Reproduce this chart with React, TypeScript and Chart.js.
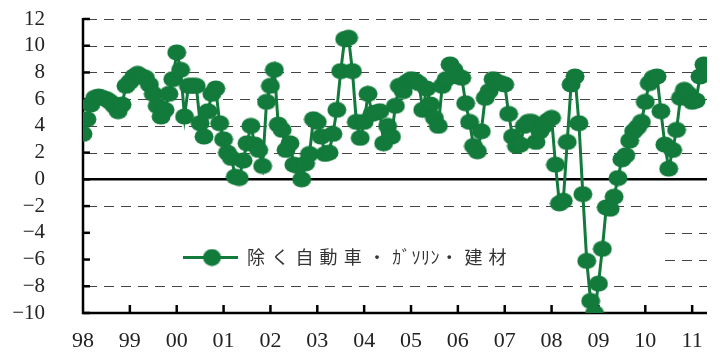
import React, { useEffect, useRef } from 'react';
import { Chart, registerables } from 'chart.js';

Chart.register(...registerables);

// ---- data ----
const yearLabels = ['98', '99', '00', '01', '02', '03', '04', '05', '06', '07', '08', '09', '10', '11'];
const seriesLabel = '除く自動車・ｶﾞｿﾘﾝ・建材';

const v1998 = [3.4, 4.5, 5.6, 6.1, 6.2, 6.1, 6.0, 5.8, 5.5, 5.1, 5.6, 7.0];
const v1999 = [7.3, 7.7, 7.9, 7.7, 7.6, 7.1, 6.4, 5.5, 4.7, 5.2, 6.4, 7.5];
const v2000 = [9.5, 8.2, 4.7, 7.0, 7.0, 7.0, 4.2, 3.2, 5.1, 6.4, 6.8, 4.2];
const v2001 = [3.0, 2.0, 1.6, 0.2, 0.1, 1.4, 2.7, 4.0, 2.6, 2.2, 1.0, 5.8];
const v2002 = [7.0, 8.2, 4.1, 3.7, 2.2, 2.7, 1.1, 1.0, 0.0, 1.2, 1.9, 4.5];
const v2003 = [4.3, 3.2, 1.9, 2.0, 3.4, 5.2, 8.1, 10.5, 10.6, 8.1, 4.3, 3.1];
const v2004 = [4.3, 6.4, 4.9, 5.0, 5.1, 2.7, 4.0, 3.2, 5.5, 7.0, 6.6, 7.3];
const v2005 = [7.5, 7.4, 7.2, 5.2, 6.8, 5.6, 4.6, 4.0, 7.0, 7.5, 8.6, 8.2];
const v2006 = [7.7, 7.6, 5.7, 4.3, 2.5, 2.1, 3.6, 6.1, 6.6, 7.5, 7.3, 7.2];
const v2007 = [7.1, 4.9, 3.2, 2.5, 2.6, 4.0, 4.3, 4.3, 2.8, 3.6, 4.0, 4.4];
const v2008 = [4.6, 1.1, -1.8, -1.6, 2.8, 7.1, 7.7, 4.2, -1.1, -6.1, -9.1, -10.0];
const v2009 = [-7.8, -5.2, -2.1, -2.2, -1.3, 0.1, 1.5, 1.8, 2.9, 3.6, 3.9, 4.3];
const v2010 = [5.8, 7.2, 7.6, 7.7, 5.1, 2.6, 0.8, 2.2, 3.7, 6.1, 6.7, 6.4];
const v2011 = [5.8, 5.9, 7.7, 8.6];

const values = [
  ...v1998, ...v1999, ...v2000, ...v2001, ...v2002, ...v2003, ...v2004,
  ...v2005, ...v2006, ...v2007, ...v2008, ...v2009, ...v2010, ...v2011,
];

const Y_MIN = -10;
const Y_MAX = 12;
const X_MAX = 159.8; // months shown after Jan 1998

const GREEN = '#127a3b';
const TEXT = '#222';

function makeMarker(w: number, h: number): HTMLCanvasElement {
  const c = document.createElement('canvas');
  c.width = w;
  c.height = h;
  const g = c.getContext('2d')!;
  g.fillStyle = GREEN;
  g.beginPath();
  g.ellipse(w / 2, h / 2, w / 2 - 0.5, h / 2 - 0.5, 0, 0, Math.PI * 2);
  g.fill();
  return c;
}

export default function App() {
  const ref = useRef<HTMLCanvasElement | null>(null);

  useEffect(() => {
    if (!ref.current) return;
    const marker = makeMarker(20, 17);
    const legendMarker = makeMarker(19, 18);

    const decor = {
      id: 'decor',
      beforeDatasetsDraw(chart: any) {
        const { ctx, chartArea: a, scales } = chart;
        const y = scales.y;
        const x = scales.x;
        ctx.save();
        // dashed grid lines
        ctx.strokeStyle = '#444';
        ctx.lineWidth = 1;
        ctx.setLineDash([10, 7]);
        y.ticks.forEach((t: any) => {
          if (t.value === 0 || t.value === Y_MIN) return;
          const py = Math.round(y.getPixelForValue(t.value)) + 0.5;
          ctx.beginPath();
          ctx.moveTo(a.left + 4, py);
          ctx.lineTo(a.right, py);
          ctx.stroke();
        });
        ctx.setLineDash([]);

        // legend box (white, covers grid)
        const bx1 = a.left + 2;
        const bx2 = a.left + (a.right - a.left) * 0.924;
        const by1 = y.getPixelForValue(-2.5);
        const by2 = y.getPixelForValue(-7.5);
        ctx.fillStyle = '#fff';
        ctx.fillRect(bx1, by1, bx2 - bx1, by2 - by1);

        // zero line
        ctx.strokeStyle = '#000';
        ctx.lineWidth = 2.5;
        const y0 = y.getPixelForValue(0);
        ctx.beginPath();
        ctx.moveTo(a.left, y0);
        ctx.lineTo(a.right, y0);
        ctx.stroke();

        // axes
        ctx.beginPath();
        ctx.moveTo(a.left, a.top - 1);
        ctx.lineTo(a.left, a.bottom);
        ctx.lineTo(a.right, a.bottom);
        ctx.stroke();

        // inner tick marks
        y.ticks.forEach((t: any) => {
          const py = y.getPixelForValue(t.value);
          ctx.beginPath();
          ctx.moveTo(a.left, py);
          ctx.lineTo(a.left + 7, py);
          ctx.stroke();
        });
        x.ticks.forEach((t: any) => {
          if (t.value === 0) return;
          const px = x.getPixelForValue(t.value);
          ctx.beginPath();
          ctx.moveTo(px, a.bottom);
          ctx.lineTo(px, a.bottom - 8);
          ctx.stroke();
        });

        // legend content
        const ds = chart.data.datasets[0];
        const ly = y.getPixelForValue(-5.85);
        ctx.strokeStyle = ds.borderColor;
        ctx.lineWidth = 3;
        ctx.beginPath();
        ctx.moveTo(a.left + 100, ly);
        ctx.lineTo(a.left + 155, ly);
        ctx.stroke();
        ctx.drawImage(legendMarker, a.left + 129 - legendMarker.width / 2, ly - legendMarker.height / 2);

        ctx.fillStyle = '#333';
        ctx.font = '18px "Noto Sans CJK JP", sans-serif';
        ctx.textBaseline = 'middle';
        ctx.textAlign = 'left';
        let tx = a.left + 164;
        for (const ch of String(ds.label)) {
          const code = ch.charCodeAt(0);
          const half = code >= 0xff61 && code <= 0xff9f;
          ctx.fillText(ch, tx, ly);
          tx += half ? 9.6 : 24.2;
        }
        ctx.restore();
      },
    };

    const chart = new Chart(ref.current, {
      type: 'line',
      data: {
        datasets: [
          {
            label: seriesLabel,
            data: values.map((v, i) => ({ x: i, y: v })),
            borderColor: GREEN,
            backgroundColor: GREEN,
            borderWidth: 3,
            pointStyle: marker as any,
            pointRadius: 10,
            tension: 0,
            fill: false,
          },
        ],
      },
      options: {
        animation: false,
        responsive: true,
        maintainAspectRatio: false,
        layout: { padding: { top: 19, right: 5, left: 0, bottom: 0 } },
        plugins: { legend: { display: false }, tooltip: { enabled: false } },
        scales: {
          x: {
            type: 'linear',
            min: 0,
            max: X_MAX,
            grid: { display: false, drawTicks: true, tickLength: 15 },
            border: { display: false },
            afterBuildTicks: (s: any) => {
              s.ticks = yearLabels.map((_, k) => ({ value: k * 12 }));
            },
            afterFit: (s: any) => {
              s.height = 43;
            },
            ticks: {
              autoSkip: false,
              maxRotation: 0,
              padding: 0,
              color: TEXT,
              font: { family: '"Liberation Serif", serif', size: 22 },
              callback: (v: any) => yearLabels[Math.round(Number(v) / 12)] ?? '',
            },
          },
          y: {
            min: Y_MIN,
            max: Y_MAX,
            grid: { display: false, drawTicks: true, tickLength: 38 },
            border: { display: false },
            afterFit: (s: any) => {
              s.width = 83;
            },
            ticks: {
              stepSize: 2,
              autoSkip: false,
              padding: 0,
              color: TEXT,
              font: { family: '"Liberation Serif", serif', size: 21 },
              callback: (v: any) => (Number(v) < 0 ? '\u2212' + Math.abs(Number(v)) : String(v)),
            },
          },
        },
      },
      plugins: [decor],
    });
    return () => chart.destroy();
  }, []);

  return (
    <div style={{ position: 'fixed', left: 0, top: 0, width: 720, height: 356 }}>
      <canvas ref={ref} />
    </div>
  );
}
